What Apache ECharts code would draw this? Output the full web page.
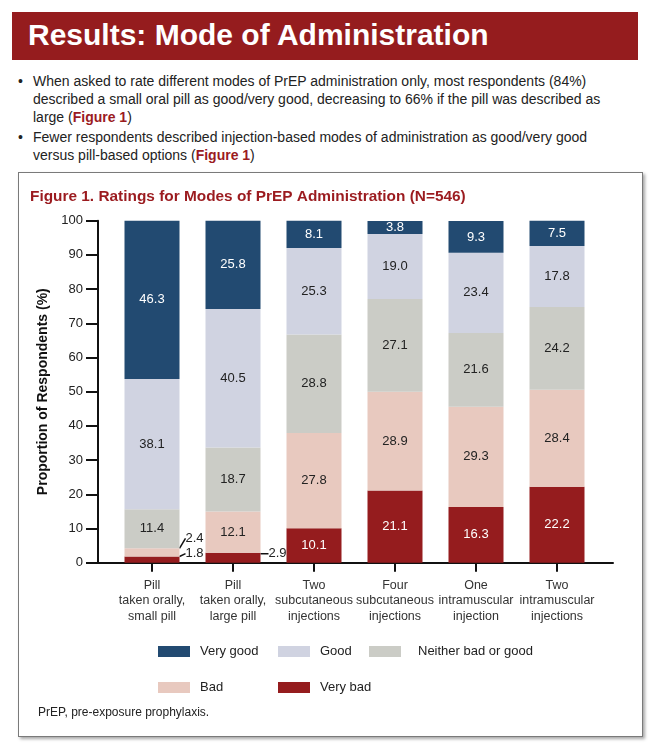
<!DOCTYPE html>
<html>
<head>
<meta charset="utf-8">
<script src="https://cdn.jsdelivr.net/npm/echarts@6/dist/echarts.min.js"></script>
<style>
  html, body { margin: 0; padding: 0; background: #fff; width: 671px; height: 750px; overflow: hidden; font-family: "Liberation Sans", Arial, sans-serif; }
  #header { position: absolute; left: 12px; top: 12px; width: 626px; height: 48px; background: #951c1e; color: #fff; font-weight: bold; font-size: 30px; line-height: 46px; padding-left: 16px; box-sizing: border-box; }
  #bullets { position: absolute; left: 18px; top: 72px; width: 597px; font-size: 14px; line-height: 18px; color: #222; }
  #bullets .b { position: relative; padding-left: 15px; margin-bottom: 2px; }
  #bullets .b:before { content: "•"; position: absolute; left: 0; top: 0; }
  #bullets .r { color: #9b1b1f; font-weight: bold; }
  #box { position: absolute; left: 18px; top: 172px; width: 625px; height: 565px; border: 1px solid #7a7a7a; box-sizing: border-box; box-shadow: 2px 2px 3px rgba(0,0,0,0.35); background: #fff; }
  #chart { position: absolute; left: 0; top: 0; width: 671px; height: 750px; }
</style>
</head>
<body>
<div id="header">Results: Mode of Administration</div>
<div id="bullets">
  <div class="b">When asked to rate different modes of PrEP administration only, most respondents (84%) described a small oral pill as good/very good, decreasing to 66% if the pill was described as large (<span class="r">Figure 1</span>)</div>
  <div class="b">Fewer respondents described injection-based modes of administration as good/very good versus pill-based options (<span class="r">Figure 1</span>)</div>
</div>
<div id="box"></div>
<div id="chart"></div>
<script>
const categories = [
  "Pill\ntaken orally,\nsmall pill",
  "Pill\ntaken orally,\nlarge pill",
  "Two\nsubcutaneous\ninjections",
  "Four\nsubcutaneous\ninjections",
  "One\nintramuscular\ninjection",
  "Two\nintramuscular\ninjections"
];
const seriesNames = ["Very bad", "Bad", "Neither bad or good", "Good", "Very good"];
const veryBad = [1.8, 2.9, 10.1, 21.1, 16.3, 22.2];
const bad = [2.4, 12.1, 27.8, 28.9, 29.3, 28.4];
const neither = [11.4, 18.7, 28.8, 27.1, 21.6, 24.2];
const good = [38.1, 40.5, 25.3, 19.0, 23.4, 17.8];
const veryGood = [46.3, 25.8, 8.1, 3.8, 9.3, 7.5];
const yTicks = [0, 10, 20, 30, 40, 50, 60, 70, 80, 90, 100];

const colors = ["#951c1e", "#e8c9bf", "#cbccc6", "#d0d3e1", "#224a71"];
const labelColors = ["#ffffff", "#222222", "#222222", "#222222", "#ffffff"];
const values = [veryBad, bad, neither, good, veryGood];
// small segments whose labels sit outside with a leader line
const outside = { "0-0": { dy: -6, dist: 6 }, "0-1": { dy: -4, dist: 8 }, "1-0": { dy: -14, dist: 6 } };

const FONT = "Liberation Sans, Arial, sans-serif";

const series = values.map((arr, si) => ({
  name: seriesNames[si],
  type: "bar",
  stack: "total",
  xAxisIndex: 0,
  yAxisIndex: 0,
  barWidth: 55,
  itemStyle: { color: colors[si] },
  label: {
    show: true,
    position: "inside",
    color: labelColors[si],
    fontSize: 13,
    fontFamily: FONT,
    formatter: p => Number(p.value).toFixed(1)
  },
  labelLine: { show: true, lineStyle: { color: "#111", width: 1.5 } },
  labelLayout: function (p) {
    const k = si + "-" + p.dataIndex;
    if (outside[k]) return { dy: outside[k].dy };
    return {};
  },
  data: arr.map((v, i) => {
    const k = si + "-" + i;
    if (outside[k]) {
      return { value: v, label: { position: "right", distance: outside[k].dist, color: "#222" } };
    }
    return v;
  })
}));

const legendPos = [
  { name: "Very good", left: 158, top: 645 },
  { name: "Good", left: 278, top: 645 },
  { name: "Neither bad or good", left: 369, top: 645, pad: 12 },
  { name: "Bad", left: 158, top: 681 },
  { name: "Very bad", left: 278, top: 681 }
];

const option = {
  animation: false,
  textStyle: { fontFamily: FONT },
  title: {
    text: "Figure 1. Ratings for Modes of PrEP Administration (N=546)",
    left: 25, top: 184,
    textStyle: { color: "#9b1b1f", fontSize: 15.4, fontWeight: "bold", fontFamily: FONT }
  },
  legend: legendPos.map(l => ({
    data: [l.name],
    left: l.left, top: l.top,
    padding: 0,
    itemWidth: 32, itemHeight: 11,
    icon: "rect",
    selectedMode: false,
    textStyle: { fontSize: 13, color: "#222", fontFamily: FONT, padding: [0, 0, 0, l.pad || 5] }
  })),
  graphic: [{
    type: "text", left: 38, top: 707,
    style: { text: "PrEP, pre-exposure prophylaxis.", fontSize: 12, fill: "#222", fontFamily: FONT }
  }],
  grid: [
    { left: 111.5, right: 73.5, top: 220.7, bottom: 187.3 },
    { left: 98, right: 58, top: 220.7, bottom: 187.3 }
  ],
  xAxis: [
    {
      type: "category", gridIndex: 0, data: categories,
      axisLine: { show: false },
      axisTick: { show: true, alignWithLabel: true, length: 9, lineStyle: { color: "#111", width: 2 } },
      axisLabel: { fontSize: 12.5, color: "#333", lineHeight: 15.5, margin: 15, fontFamily: FONT, interval: 0 }
    },
    {
      type: "value", gridIndex: 1, min: 0, max: 1,
      axisLine: { show: true, lineStyle: { color: "#111", width: 2 } },
      axisTick: { show: false }, axisLabel: { show: false }, splitLine: { show: false }
    }
  ],
  yAxis: [
    {
      type: "value", gridIndex: 0, min: yTicks[0], max: yTicks[yTicks.length - 1], interval: 10,
      offset: 13.5,
      name: "Proportion of Respondents (%)",
      nameLocation: "middle", nameRotate: 90, nameGap: 34,
      nameTextStyle: { fontSize: 14, fontWeight: "bold", color: "#111", fontFamily: FONT },
      axisLine: { show: true, lineStyle: { color: "#111", width: 2 } },
      axisTick: { show: true, inside: false, length: 12, lineStyle: { color: "#111", width: 2 } },
      axisLabel: { fontSize: 13, color: "#222", margin: 15, fontFamily: FONT },
      splitLine: { show: false }
    },
    {
      type: "value", gridIndex: 1, min: 0, max: 1, show: false
    }
  ],
  series: series
};

const chart = echarts.init(document.getElementById("chart"), null, { renderer: "canvas" });
chart.setOption(option);
</script>
</body>
</html>
